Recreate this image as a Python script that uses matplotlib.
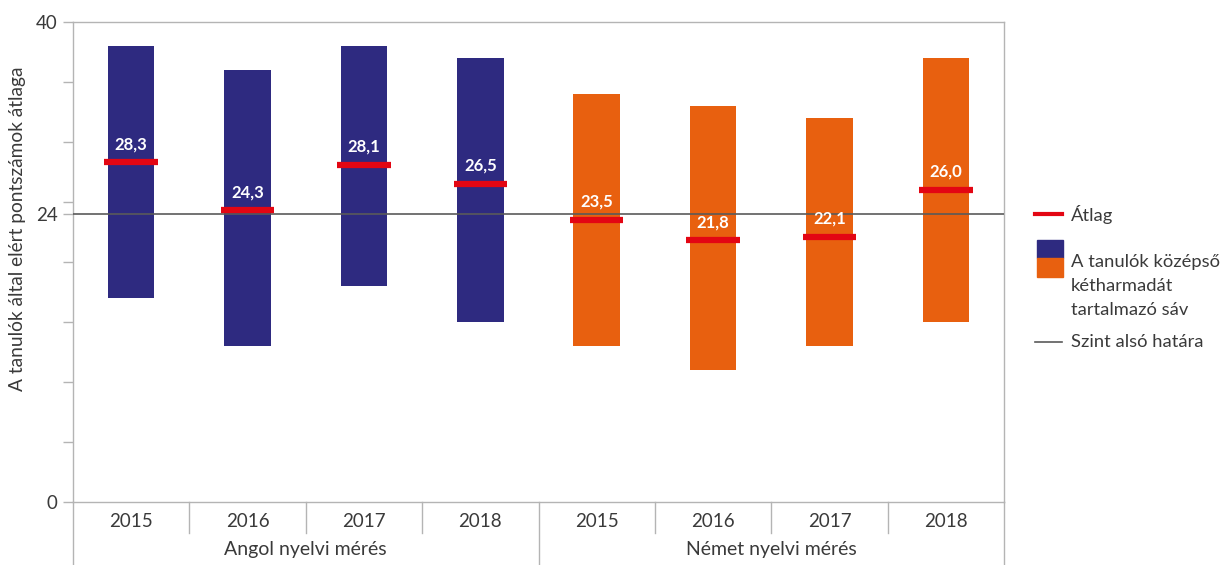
import numpy as np
import matplotlib.pyplot as plt
from matplotlib.lines import Line2D
from matplotlib.patches import Rectangle
from matplotlib.ticker import FixedLocator, NullFormatter

plt.rcParams["font.family"] = ["Lato", "DejaVu Sans"]

years = ["2015", "2016", "2017", "2018", "2015", "2016", "2017", "2018"]
groups = ["Angol nyelvi mérés", "Német nyelvi mérés"]
band_low = [17, 13, 18, 15, 13, 11, 13, 15]
band_high = [38, 36, 38, 37, 34, 33, 32, 37]
means = [28.3, 24.3, 28.1, 26.5, 23.5, 21.8, 22.1, 26.0]
level = 24

navy = "#2e2a80"
orange = "#e8600f"
red = "#e30613"
frame = "#b4b4b4"
level_col = "#5a5a5a"
text_col = "#3a3a3a"

W, H = 1228, 565
fig = plt.figure(figsize=(W / 100, H / 100), dpi=100)
ax = fig.add_axes([73 / W, 1 - 502 / H, (1004 - 73) / W, (502 - 22) / H])


def fpos(x, y):
    # pixel position -> figure fraction
    return x / W, 1 - y / H


x = np.arange(len(years))
colors = [navy] * 4 + [orange] * 4
low = np.array(band_low)
high = np.array(band_high)
ax.bar(x, high - low, bottom=low, width=0.4, color=colors, zorder=2)

ax.axhline(level, color=level_col, lw=1.2, zorder=3)
ax.hlines(means, x - 0.23, x + 0.23, color=red, lw=4.5, zorder=4)
for xi, m in zip(x, means):
    ax.annotate(f"{m:.1f}".replace(".", ","), (xi, m), xytext=(0, 13),
                textcoords="offset points", ha="center", va="center",
                color="white", fontsize=12, fontweight="bold", zorder=5)

ax.set_xlim(-0.5, len(years) - 0.5)
ax.set_ylim(0, 40)

for side in ["left", "right", "top", "bottom"]:
    ax.spines[side].set_color(frame)
    ax.spines[side].set_linewidth(1.0)

ax.yaxis.set_major_locator(FixedLocator([0, 24, 40]))
ax.yaxis.set_minor_locator(FixedLocator(np.arange(0, 41, 5)))
ax.yaxis.set_minor_formatter(NullFormatter())
ax.tick_params(axis="y", which="both", length=7, width=1.0, color=frame,
               labelsize=13.5, labelcolor=text_col, pad=4)
ax.set_ylabel("A tanulók által elért pontszámok átlaga", fontsize=13.8,
              color=text_col)
ax.yaxis.set_label_coords(-0.05, 0.57)

ax.set_xticks(x)
ax.set_xticklabels(years, fontsize=13.5, color=text_col)
ax.tick_params(axis="x", length=0, pad=8)

# category separators below the axis
trans = ax.get_xaxis_transform()
for b in np.arange(0.5, len(years) - 1, 1.0):
    long = b == 3.5
    y_end = -0.33 if long else -0.065
    ax.add_line(Line2D([b, b], [0, y_end], transform=trans, color=frame,
                       lw=1.0, clip_on=False))
for b in [-0.5, len(years) - 0.5]:
    ax.add_line(Line2D([b, b], [0, -0.33], transform=trans, color=frame,
                       lw=1.0, clip_on=False))

for gi, name in enumerate(groups):
    ax.text(1.5 + 4 * gi, -0.1, name, transform=trans, ha="center",
            va="center", fontsize=14, color=text_col)

# legend
fs = 13.2
fig.add_artist(Line2D([fpos(1035, 0)[0], fpos(1062, 0)[0]],
                      [fpos(0, 214)[1]] * 2, color=red, lw=3))
fig.text(*fpos(1071, 214), "Átlag", fontsize=fs, color=text_col, va="center")
x0, y0 = fpos(1037, 277)
x1, ym = fpos(1063, 258)
_, y1 = fpos(0, 240)
fig.add_artist(Rectangle((x0, ym), x1 - x0, y1 - ym, color=navy,
                         transform=fig.transFigure))
fig.add_artist(Rectangle((x0, y0), x1 - x0, ym - y0, color=orange,
                         transform=fig.transFigure))
for i, line in enumerate(["A tanulók középső", "kétharmadát", "tartalmazó sáv"]):
    fig.text(*fpos(1071, 262 + 24 * i), line, fontsize=fs, color=text_col,
             va="center")
fig.add_artist(Line2D([fpos(1035, 0)[0], fpos(1062, 0)[0]],
                      [fpos(0, 342)[1]] * 2, color=level_col, lw=1.2))
fig.text(*fpos(1071, 342), "Szint alsó határa", fontsize=fs, color=text_col,
         va="center")

fig.savefig("out.png", dpi=100)
